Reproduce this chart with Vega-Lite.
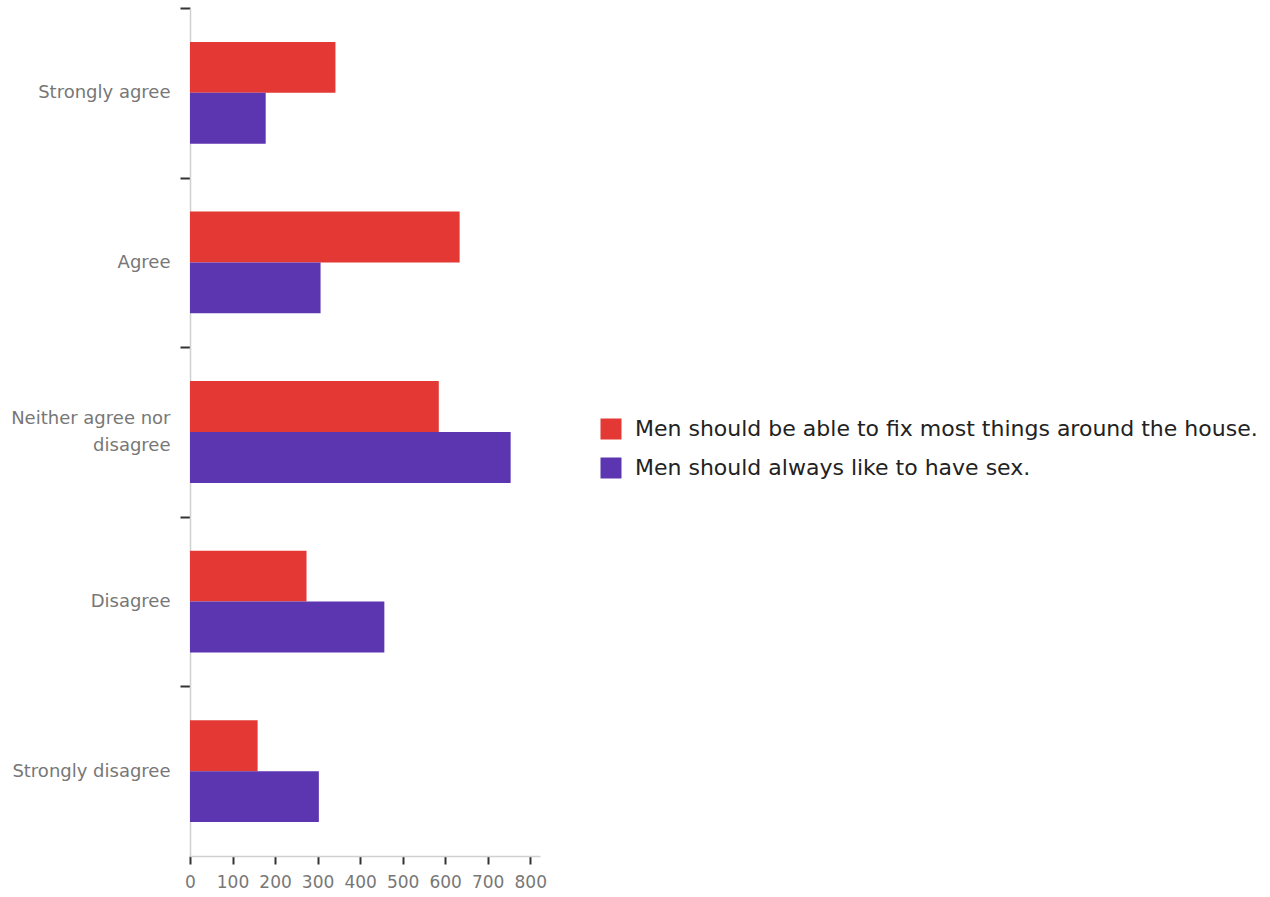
{
  "$schema": "https://vega.github.io/schema/vega-lite/v6.json",
  "autosize": "none",
  "width": 350,
  "height": 848,
  "padding": {"left": 190, "top": 8, "right": 730, "bottom": 41},
  "background": "white",
  "config": {"view": {"stroke": null}, "font": "DejaVu Sans"},
  "data": {
    "values": [
      {"response": "Strongly agree", "statement": "Men should be able to fix most things around the house.", "count": 342},
      {"response": "Strongly agree", "statement": "Men should always like to have sex.", "count": 178},
      {"response": "Agree", "statement": "Men should be able to fix most things around the house.", "count": 634},
      {"response": "Agree", "statement": "Men should always like to have sex.", "count": 307},
      {"response": "Neither agree nor disagree", "statement": "Men should be able to fix most things around the house.", "count": 585},
      {"response": "Neither agree nor disagree", "statement": "Men should always like to have sex.", "count": 754},
      {"response": "Disagree", "statement": "Men should be able to fix most things around the house.", "count": 274},
      {"response": "Disagree", "statement": "Men should always like to have sex.", "count": 457},
      {"response": "Strongly disagree", "statement": "Men should be able to fix most things around the house.", "count": 159},
      {"response": "Strongly disagree", "statement": "Men should always like to have sex.", "count": 303}
    ]
  },
  "mark": {"type": "bar"},
  "encoding": {
    "y": {
      "field": "response",
      "type": "nominal",
      "sort": ["Strongly agree", "Agree", "Neither agree nor disagree", "Disagree", "Strongly disagree"],
      "scale": {"paddingInner": 0.4, "paddingOuter": 0.2},
      "axis": {
        "title": null,
        "tickBand": "center",
        "tickOffset": -84.8,
        "tickSize": 10,
        "tickWidth": 2,
        "tickColor": "#333333",
        "domainColor": "#d0d0d0",
        "domainWidth": 1.5,
        "labelFontSize": 18,
        "labelColor": "#777777",
        "labelPadding": 10,
        "labelLimit": 200,
        "labelLineHeight": 27,
        "labelOffset": {"condition": {"test": "datum.value == 'Neither agree nor disagree'", "value": 71}, "value": 84.8},
        "labelExpr": "datum.value == 'Neither agree nor disagree' ? ['Neither agree nor', 'disagree'] : datum.value"
      }
    },
    "yOffset": {
      "field": "statement",
      "type": "nominal",
      "sort": ["Men should be able to fix most things around the house.", "Men should always like to have sex."],
      "scale": {"paddingInner": 0, "paddingOuter": 0}
    },
    "x": {
      "field": "count",
      "type": "quantitative",
      "scale": {"domain": [0, 823], "nice": false},
      "axis": {
        "title": null,
        "values": [0, 100, 200, 300, 400, 500, 600, 700, 800],
        "grid": false,
        "tickSize": 8,
        "tickWidth": 2,
        "tickColor": "#333333",
        "domainColor": "#d0d0d0",
        "domainWidth": 1.5,
        "labelFontSize": 17,
        "labelColor": "#777777",
        "labelPadding": 10,
        "labelFlush": false
      }
    },
    "color": {
      "field": "statement",
      "type": "nominal",
      "sort": ["Men should be able to fix most things around the house.", "Men should always like to have sex."],
      "scale": {
        "domain": ["Men should be able to fix most things around the house.", "Men should always like to have sex."],
        "range": ["#e33834", "#5c35b0"]
      },
      "legend": {
        "title": null,
        "orient": "none",
        "legendX": 410,
        "legendY": 410,
        "symbolType": "square",
        "symbolSize": 441,
        "symbolStrokeWidth": 0,
        "labelFontSize": 22,
        "labelColor": "#222222",
        "labelOffset": 13,
        "labelLimit": 700,
        "rowPadding": 17
      }
    }
  }
}
